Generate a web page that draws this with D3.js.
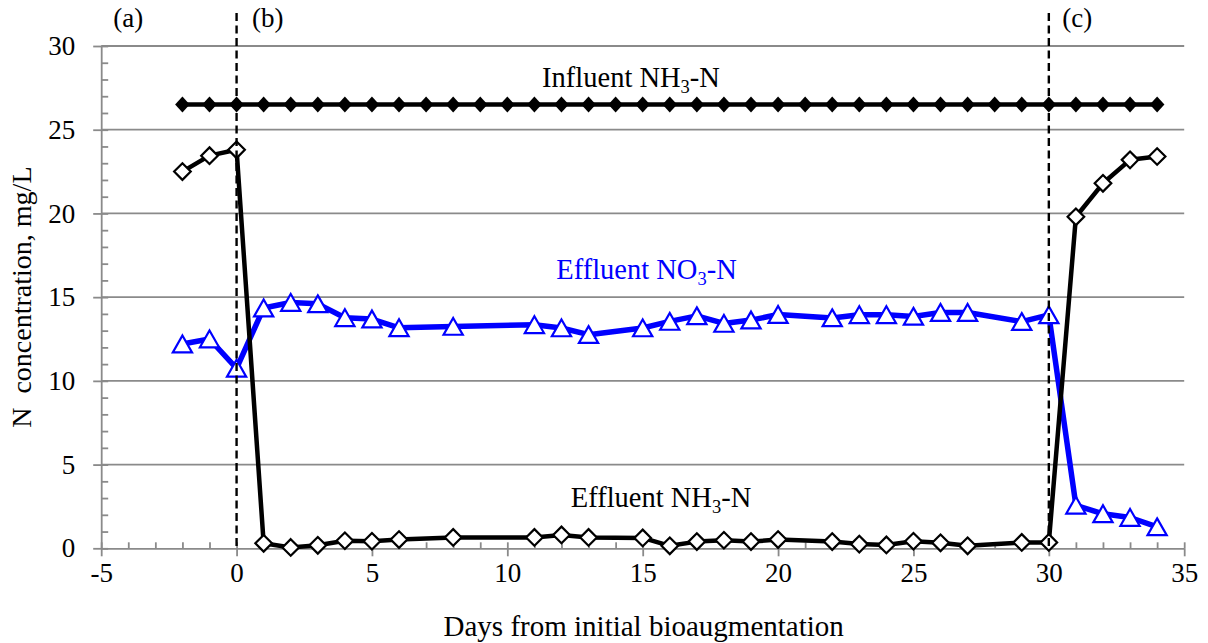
<!DOCTYPE html>
<html>
<head>
<meta charset="utf-8">
<script src="https://cdn.jsdelivr.net/npm/d3@7"></script>
<style>
  html, body { margin: 0; padding: 0; background: #fff; }
  svg { display: block; }
  text { font-family: "Liberation Serif", "Times New Roman", serif; fill: #000; }
</style>
</head>
<body>
<svg id="chart" width="1208" height="643"></svg>
<script>
// ---- data ----
const influentDays = [-2,-1,0,1,2,3,4,5,6,7,8,9,10,11,12,13,14,15,16,17,18,19,20,21,22,23,24,25,26,27,28,29,30,31,32,33,34];
const influentNH3 = [26.5,26.5,26.5,26.5,26.5,26.5,26.5,26.5,26.5,26.5,26.5,26.5,26.5,26.5,26.5,26.5,26.5,26.5,26.5,26.5,26.5,26.5,26.5,26.5,26.5,26.5,26.5,26.5,26.5,26.5,26.5,26.5,26.5,26.5,26.5,26.5,26.5];

const effluentDays = [-2,-1,0,1,2,3,4,5,6,8,11,12,13,15,16,17,18,19,20,22,23,24,25,26,27,29,30,31,32,33,34];
const effluentNH3 = [22.5,23.45,23.8,0.3,0.05,0.18,0.45,0.42,0.52,0.65,0.65,0.8,0.65,0.62,0.15,0.4,0.48,0.4,0.52,0.4,0.25,0.2,0.42,0.33,0.15,0.35,0.35,19.8,21.8,23.2,23.4];
const effluentNO3 = [12.2,12.5,10.75,14.35,14.68,14.6,13.77,13.69,13.17,13.25,13.35,13.16,12.76,13.16,13.55,13.88,13.43,13.63,13.96,13.76,13.95,13.95,13.85,14.08,14.08,13.54,13.94,2.57,2.06,1.84,1.28];

const phaseDays = [0, 30];
const phaseLabels = ["(a)", "(b)", "(c)"];
const phaseLabelDays = [-4.0, 1.15, 31.05];

const xTicks = [-5,0,5,10,15,20,25,30,35];
const yTicks = [0,5,10,15,20,25,30];
const xTitle = "Days from initial bioaugmentation";
const yTitle = "N  concentration, mg/L";

// ---- layout ----
const svg = d3.select("#chart");
const pLeft = 101.2, pRight = 1184.2, pTop = 46, pBottom = 548.3;
const x = d3.scaleLinear().domain([-5, 35]).range([pLeft, pRight]);
const y = d3.scaleLinear().domain([0, 30]).range([pBottom, pTop]);
const gray = "#8a8a8a";

// gridlines
svg.append("g")
  .selectAll("line").data(yTicks.filter(d => d > 0)).join("line")
  .attr("x1", pLeft).attr("x2", pRight)
  .attr("y1", d => y(d)).attr("y2", d => y(d))
  .attr("stroke", gray).attr("stroke-width", 1.8);

// x axis (major, outside + labels)
const xAxis = svg.append("g").attr("transform", `translate(0,${pBottom})`)
  .call(d3.axisBottom(x).tickValues(xTicks).tickSizeInner(8).tickSizeOuter(0).tickPadding(7)
        .tickFormat(d => d < 0 ? "-" + Math.abs(d) : d));
xAxis.select(".domain").attr("stroke", gray).attr("stroke-width", 1.8);
xAxis.selectAll(".tick line").attr("stroke", gray).attr("stroke-width", 1.8);
xAxis.selectAll(".tick text").attr("font-size", 27).attr("font-family", "Liberation Serif").attr("fill", "#000");

// x minor ticks inside
svg.append("g").attr("transform", `translate(0,${pBottom})`)
  .call(d3.axisTop(x).tickValues(d3.range(-5, 36, 1)).tickSizeInner(6).tickSizeOuter(0).tickFormat(""))
  .call(g => g.select(".domain").remove())
  .selectAll(".tick line").attr("stroke", gray).attr("stroke-width", 1.8);

// y axis
const yAxis = svg.append("g").attr("transform", `translate(${pLeft},0)`)
  .call(d3.axisLeft(y).tickValues(yTicks).tickSizeInner(8).tickSizeOuter(0).tickPadding(18));
yAxis.select(".domain").attr("stroke", gray).attr("stroke-width", 1.8);
yAxis.selectAll(".tick line").attr("stroke", gray).attr("stroke-width", 1.8);
yAxis.selectAll(".tick text").attr("font-size", 27).attr("font-family", "Liberation Serif").attr("fill", "#000");

svg.append("g").attr("transform", `translate(${pLeft},0)`)
  .call(d3.axisRight(y).tickValues(d3.range(0, 31, 1)).tickSizeInner(7).tickSizeOuter(0).tickFormat(""))
  .call(g => g.select(".domain").remove())
  .selectAll(".tick line").attr("stroke", gray).attr("stroke-width", 1.8);

// axis titles
svg.append("text").attr("x", (x(-5) + x(35)) / 2 + 1).attr("y", 636)
  .attr("text-anchor", "middle").attr("font-size", 29).text(xTitle);
svg.append("text").attr("transform", `translate(31,${(pTop + pBottom) / 2}) rotate(-90)`)
  .attr("text-anchor", "middle").attr("font-size", 28).style("white-space", "pre").text(yTitle);

// ---- series ----
const line = d3.line().x(d => x(d[0])).y(d => y(d[1]));

const no3 = effluentDays.map((d, i) => [d, effluentNO3[i]]);
const nh3 = effluentDays.map((d, i) => [d, effluentNH3[i]]);
const inf = influentDays.map((d, i) => [d, influentNH3[i]]);

// NO3 (blue)
svg.append("path").datum(no3).attr("d", line)
  .attr("fill", "none").attr("stroke", "#0000ff").attr("stroke-width", 5.5).attr("stroke-linejoin", "round");
svg.append("g").selectAll("path").data(no3).join("path")
  .attr("transform", d => `translate(${x(d[0])},${y(d[1])})`)
  .attr("d", "M0,-8.5L9.6,8.3L-9.6,8.3Z")
  .attr("fill", "#fff").attr("stroke", "#0000ff").attr("stroke-width", 2.2);

// Effluent NH3 (open diamonds)
svg.append("path").datum(nh3).attr("d", line)
  .attr("fill", "none").attr("stroke", "#000").attr("stroke-width", 4.5).attr("stroke-linejoin", "round");
svg.append("g").selectAll("path").data(nh3).join("path")
  .attr("transform", d => `translate(${x(d[0])},${y(d[1])})`)
  .attr("d", "M0,-8.3L8.3,0L0,8.3L-8.3,0Z")
  .attr("fill", "#fff").attr("stroke", "#000").attr("stroke-width", 2.2);

// Influent NH3 (filled diamonds)
svg.append("path").datum(inf).attr("d", line)
  .attr("fill", "none").attr("stroke", "#000").attr("stroke-width", 4.5);
svg.append("g").selectAll("path").data(inf).join("path")
  .attr("transform", d => `translate(${x(d[0])},${y(d[1])})`)
  .attr("d", "M0,-8L7.3,0L0,8L-7.3,0Z")
  .attr("fill", "#000");

// phase dashed lines
svg.append("g").selectAll("line").data(phaseDays).join("line")
  .attr("x1", d => x(d)).attr("x2", d => x(d))
  .attr("y1", 13).attr("y2", pBottom)
  .attr("stroke", "#000").attr("stroke-width", 2.4).attr("stroke-dasharray", "8,4.5");

// phase labels
svg.append("g").selectAll("text").data(phaseLabels).join("text")
  .attr("x", (d, i) => x(phaseLabelDays[i])).attr("y", 27)
  .attr("text-anchor", "middle").attr("font-size", 27).text(d => d);

// series annotations with subscripts
function annot(cx, by, pre, sub, post, color) {
  const t = svg.append("text").attr("x", cx).attr("y", by)
    .attr("text-anchor", "middle").attr("font-size", 28.5).style("fill", color);
  t.append("tspan").text(pre);
  t.append("tspan").attr("font-size", 18.5).attr("dy", 6).text(sub);
  t.append("tspan").attr("dy", -6).text(post);
}
annot(631, 87, "Influent NH", "3", "-N", "#000");
annot(646.5, 279, "Effluent NO", "3", "-N", "#0000ff");
annot(661, 507, "Effluent NH", "3", "-N", "#000");
</script>
</body>
</html>
